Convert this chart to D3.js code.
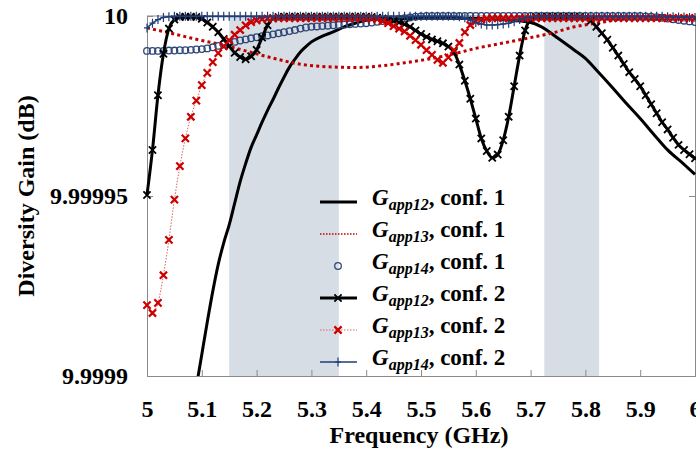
<!DOCTYPE html>
<html>
<head>
<meta charset="utf-8">
<script src="https://d3js.org/d3.v7.min.js"></script>
<style>
body { margin: 0; background: #fff; }
svg { display: block; font-family: "Liberation Serif", "Times New Roman", serif; font-weight: bold; }
.tick text { font-family: "Liberation Serif", "Times New Roman", serif; font-weight: bold; font-size: 24px; fill: #000; }
</style>
</head>
<body>
<div id="plot"></div>
<script>

var width = 696;
var height = 460;
var plotLeft = 147, plotRight = 695, plotTop = 16, plotBottom = 376;
var serif = "'Liberation Serif', 'Times New Roman', serif";

// Frequency sweep, 5.00 .. 6.00 GHz in 0.01 GHz steps (markers sit on these)
var freqs = d3.range(0, 101).map(function (i) { return 5 + i / 100; });

// All curves are stored as the drop below 10 dB, in units of 1e-5 dB
// G_app12, conf. 2 (black, x markers)
var app12conf2 = [
  4.97, 3.72, 2.2, 1.05, 0.35, 0.1, 0.03, 0.02, 0.02, 0.03,
  0.08, 0.18, 0.3, 0.45, 0.64, 0.84, 1.02, 1.14, 1.2, 1.12,
  0.94, 0.6, 0.26, 0.07, 0.03, 0.02, 0.02, 0.02, 0.02, 0.02,
  0.02, 0.02, 0.02, 0.02, 0.02, 0.02, 0.02, 0.02, 0.02, 0.02,
  0.02, 0.03, 0.05, 0.07, 0.1, 0.14, 0.18, 0.23, 0.3, 0.4,
  0.5, 0.58, 0.65, 0.7, 0.76, 0.85, 1.0, 1.35, 1.8, 2.3,
  2.85, 3.4, 3.75, 3.94, 3.85, 3.45, 2.8, 1.95, 1.1, 0.4,
  0.1, 0.03, 0.02, 0.02, 0.02, 0.02, 0.02, 0.02, 0.02, 0.03,
  0.05, 0.13, 0.3, 0.48, 0.66, 0.88, 1.1, 1.33, 1.56, 1.75,
  1.95, 2.2, 2.45, 2.7, 2.95, 3.15, 3.38, 3.58, 3.72, 3.84,
  3.95
];
// G_app13, conf. 2 (red, x markers)
var app13conf2 = [
  8.03, 8.25, 7.97, 7.2, 6.22, 5.1, 4.17, 3.4, 2.8, 2.35,
  1.92, 1.58, 1.28, 1.03, 0.84, 0.68, 0.52, 0.39, 0.26, 0.17,
  0.12, 0.09, 0.07, 0.06, 0.06, 0.06, 0.06, 0.06, 0.06, 0.06,
  0.06, 0.06, 0.06, 0.06, 0.06, 0.06, 0.06, 0.06, 0.06, 0.06,
  0.06, 0.07, 0.09, 0.14, 0.2, 0.28, 0.35, 0.43, 0.55, 0.67,
  0.8, 0.95, 1.08, 1.22, 1.3, 1.15, 0.95, 0.75, 0.45, 0.25,
  0.15, 0.1, 0.07, 0.06, 0.06, 0.06, 0.06, 0.06, 0.06, 0.06,
  0.06, 0.06, 0.06, 0.06, 0.06, 0.06, 0.06, 0.06, 0.06, 0.06,
  0.06, 0.06, 0.06, 0.06, 0.06, 0.06, 0.06, 0.06, 0.06, 0.06,
  0.06, 0.06, 0.06, 0.06, 0.06, 0.06, 0.06, 0.06, 0.06, 0.06,
  0.06
];
// G_app14, conf. 2 (blue, + markers)
var app14conf2 = [
  0.33, 0.2, 0.1, 0.04, 0.02, 0.01, 0.01, 0.01, 0.01, 0.01,
  0.01, 0.01, 0.01, 0.01, 0.01, 0.01, 0.01, 0.01, 0.01, 0.01,
  0.01, 0.01, 0.01, 0.01, 0.01, 0.01, 0.01, 0.01, 0.01, 0.01,
  0.01, 0.01, 0.01, 0.01, 0.01, 0.01, 0.01, 0.01, 0.01, 0.01,
  0.01, 0.01, 0.01, 0.01, 0.01, 0.01, 0.01, 0.01, 0.01, 0.01,
  0.01, 0.01, 0.01, 0.01, 0.01, 0.01, 0.01, 0.02, 0.05, 0.12,
  0.18, 0.22, 0.25, 0.25, 0.24, 0.22, 0.2, 0.16, 0.1, 0.05,
  0.02, 0.01, 0.01, 0.01, 0.01, 0.01, 0.01, 0.01, 0.01, 0.01,
  0.01, 0.01, 0.01, 0.01, 0.01, 0.01, 0.01, 0.01, 0.01, 0.01,
  0.01, 0.01, 0.01, 0.01, 0.01, 0.02, 0.02, 0.03, 0.03, 0.04,
  0.04
];
// G_app14, conf. 1 (blue circles)
var app14conf1 = [
  0.97, 0.97, 0.97, 0.97, 0.96, 0.96, 0.95, 0.95, 0.94, 0.93,
  0.92, 0.9, 0.87, 0.83, 0.79, 0.75, 0.72, 0.68, 0.65, 0.62,
  0.59, 0.56, 0.54, 0.51, 0.48, 0.45, 0.42, 0.39, 0.35, 0.32,
  0.3, 0.29, 0.28, 0.27, 0.26, 0.25, 0.24, 0.23, 0.22, 0.21,
  0.2, 0.18, 0.16, 0.14, 0.12, 0.1, 0.08, 0.06, 0.04, 0.02,
  0.01, 0.0, 0.0, 0.0, 0.0, 0.0, 0.0, 0.0, 0.0, 0.0,
  0.0, 0.0, 0.0, 0.0, 0.0, 0.0, 0.0, 0.0, 0.0, 0.0,
  0.0, 0.0, 0.0, 0.0, 0.0, 0.0, 0.0, 0.0, 0.0, 0.0,
  0.0, 0.0, 0.0, 0.0, 0.0, 0.0, 0.0, 0.0, 0.0, 0.0,
  0.0, 0.01, 0.02, 0.03, 0.05, 0.07, 0.09, 0.11, 0.13, 0.15,
  0.17
];

// G_app12, conf. 1 (black solid line), own frequency points
var app12conf1Freq = [5.07, 5.08, 5.09, 5.10, 5.11, 5.12, 5.13, 5.14, 5.15, 5.16, 5.17, 5.18, 5.19, 5.20,
  5.21, 5.22, 5.23, 5.24, 5.25, 5.26, 5.27, 5.28, 5.29, 5.30, 5.32, 5.34, 5.36, 5.38, 5.40,
  5.45, 5.50, 5.55, 5.60, 5.65, 5.70, 5.72, 5.75, 5.78, 5.80, 5.82, 5.85, 5.87, 5.90, 5.93, 5.95, 5.98, 6.00];
var app12conf1 = [12.3, 11.2, 10.3, 9.4, 8.5, 7.65, 6.9, 6.3, 5.8, 5.2, 4.6, 4.1, 3.65, 3.3,
  2.95, 2.62, 2.32, 2.0, 1.7, 1.42, 1.2, 1.0, 0.85, 0.72, 0.56, 0.44, 0.3, 0.2, 0.12,
  0.08, 0.06, 0.06, 0.07, 0.1, 0.18, 0.3, 0.62, 0.95, 1.18, 1.5, 2.0, 2.35, 2.85, 3.38, 3.72, 4.12, 4.4];

// G_app13, conf. 1 (red dotted line)
var app13conf1Freq = [5.00, 5.05, 5.08, 5.10, 5.14, 5.18, 5.23, 5.28, 5.33, 5.38, 5.43, 5.47, 5.52,
  5.56, 5.60, 5.65, 5.70, 5.74, 5.78, 5.82, 5.86, 5.90, 5.95, 6.00];
var app13conf1 = [0.33, 0.5, 0.61, 0.68, 0.81, 0.97, 1.17, 1.34, 1.41, 1.43, 1.38, 1.3, 1.18,
  1.05, 0.9, 0.75, 0.6, 0.47, 0.3, 0.2, 0.1, 0.04, 0.03, 0.03];

// Shaded bands (GHz)
var bands = [[5.15, 5.35], [5.725, 5.825]];

var xTicks = [5, 5.1, 5.2, 5.3, 5.4, 5.5, 5.6, 5.7, 5.8, 5.9, 6];
var xTickLabels = ["5", "5.1", "5.2", "5.3", "5.4", "5.5", "5.6", "5.7", "5.8", "5.9", "6"];
var yTicks = [9.9999, 9.99995, 10];
var yTickLabels = ["9.9999", "9.99995", "10"];

var legendNames = ["app12", "app13", "app14", "app12", "app13", "app14"];
var legendConfs = ["1", "1", "1", "2", "2", "2"];

var xScale = d3.scaleLinear().domain([5, 6]).range([plotLeft, plotRight]);
var yScale = d3.scaleLinear().domain([9.9999, 10]).range([plotBottom, plotTop]);

var svg = d3.select("#plot").append("svg").attr("width", width).attr("height", height);
svg.append("rect").attr("width", width).attr("height", height).attr("fill", "#fff");

svg.append("defs").append("clipPath").attr("id", "clip")
  .append("rect").attr("x", plotLeft - 8).attr("y", 0).attr("width", plotRight - plotLeft + 16).attr("height", plotBottom);

// bands
svg.selectAll("rect.band").data(bands).enter().append("rect")
  .attr("class", "band")
  .attr("x", function (d) { return xScale(d[0]); })
  .attr("width", function (d) { return xScale(d[1]) - xScale(d[0]); })
  .attr("y", plotTop).attr("height", plotBottom - plotTop)
  .attr("fill", "#d7dde5");

// axes (ticks inside the plot area)
var xAxis = svg.append("g").attr("transform", "translate(0," + plotBottom + ")")
  .call(d3.axisBottom(xScale).tickValues(xTicks).tickSize(-6).tickFormat(function (d, i) { return xTickLabels[i]; }))
  .attr("font-family", serif).attr("font-size", 24);
xAxis.select(".domain").attr("stroke", "#8a8a8a");
xAxis.selectAll(".tick line").attr("stroke", "#8a8a8a");
xAxis.selectAll(".tick text").attr("y", 41).attr("dy", 0).attr("font-family", serif);

var yAxis = svg.append("g").attr("transform", "translate(" + plotLeft + ",0)")
  .call(d3.axisLeft(yScale).tickValues(yTicks).tickSize(-6).tickFormat(function (d, i) { return yTickLabels[i]; }))
  .attr("font-family", serif).attr("font-size", 24);
yAxis.select(".domain").attr("stroke", "#8a8a8a");
yAxis.selectAll(".tick line").attr("stroke", "#8a8a8a");
yAxis.selectAll(".tick text").attr("x", -19).attr("dy", "0.32em").attr("font-family", serif);

var yRight = svg.append("g").attr("transform", "translate(" + plotRight + ",0)")
  .call(d3.axisRight(yScale).tickValues(yTicks).tickSize(-6).tickFormat(""));
yRight.select(".domain").attr("stroke", "#8a8a8a");
yRight.selectAll(".tick line").attr("stroke", "#8a8a8a");

svg.append("line").attr("x1", plotLeft).attr("x2", plotRight).attr("y1", plotTop).attr("y2", plotTop).attr("stroke", "#8a8a8a");

// axis titles
svg.append("text").attr("x", xScale(5.5) - 2).attr("y", 443).attr("text-anchor", "middle")
  .style("font-size", "24px").text("Frequency (GHz)");
svg.append("text").attr("transform", "translate(34," + yScale(9.99995) + ") rotate(-90)")
  .attr("text-anchor", "middle").style("font-size", "24px").text("Diversity Gain (dB)");

// helpers
function toDb(drop) { return 10 - drop * 1e-5; }
function points(fs, drops) {
  return fs.map(function (f, i) { return { x: f, y: toDb(drops[i]) }; });
}
var line = d3.line().x(function (d) { return xScale(d.x); }).y(function (d) { return yScale(d.y); }).curve(d3.curveMonotoneX);

var xMark = "M-3.6,-3.6L3.6,3.6M-3.6,3.6L3.6,-3.6";
var plusMark = "M0,-4.5V4.5M-3,0H3";

var plot = svg.append("g").attr("clip-path", "url(#clip)");

var s1 = points(app12conf1Freq, app12conf1);
var s2 = points(app13conf1Freq, app13conf1);
var s3 = points(freqs, app14conf1);
var s4 = points(freqs, app12conf2);
var s5 = points(freqs, app13conf2);
var s6 = points(freqs, app14conf2);

plot.append("path").datum(s1).attr("d", line).attr("fill", "none").attr("stroke", "#000").attr("stroke-width", 3);
plot.append("path").datum(s2).attr("d", line).attr("fill", "none").attr("stroke", "#c00000")
  .attr("stroke-width", 3).attr("stroke-dasharray", "3,3.2");
plot.selectAll("circle.c3").data(s3).enter().append("circle").attr("class", "c3")
  .attr("cx", function (d) { return xScale(d.x); }).attr("cy", function (d) { return yScale(d.y); })
  .attr("r", 3.3).attr("fill", "none").attr("stroke", "#2e4677").attr("stroke-width", 1.3);

plot.append("path").datum(s4).attr("d", line).attr("fill", "none").attr("stroke", "#000").attr("stroke-width", 3);
plot.selectAll("path.m4").data(s4).enter().append("path").attr("class", "m4")
  .attr("transform", function (d) { return "translate(" + xScale(d.x) + "," + yScale(d.y) + ")"; })
  .attr("d", xMark).attr("stroke", "#000").attr("stroke-width", 1.8);

plot.append("path").datum(s5).attr("d", line).attr("fill", "none").attr("stroke", "#e06060")
  .attr("stroke-width", 1).attr("stroke-dasharray", "1.5,1.5");
plot.selectAll("path.m5").data(s5).enter().append("path").attr("class", "m5")
  .attr("transform", function (d) { return "translate(" + xScale(d.x) + "," + yScale(d.y) + ")"; })
  .attr("d", xMark).attr("stroke", "#cc0000").attr("stroke-width", 2.2);

plot.append("path").datum(s6).attr("d", line).attr("fill", "none").attr("stroke", "#1f3d78").attr("stroke-width", 1.6);
plot.selectAll("path.m6").data(s6).enter().append("path").attr("class", "m6")
  .attr("transform", function (d) { return "translate(" + xScale(d.x) + "," + yScale(d.y) + ")"; })
  .attr("d", plusMark).attr("stroke", "#1f3d78").attr("stroke-width", 1.2);

// legend
var legend = svg.append("g");
var rowY = function (i) { return 202 + i * 32; };
var lx0 = 320, lx1 = 357, lmid = 338;

legend.append("line").attr("x1", lx0).attr("x2", lx1).attr("y1", rowY(0)).attr("y2", rowY(0)).attr("stroke", "#000").attr("stroke-width", 3);
legend.append("line").attr("x1", lx0).attr("x2", lx1).attr("y1", rowY(1)).attr("y2", rowY(1)).attr("stroke", "#c00000").attr("stroke-width", 1.5).attr("stroke-dasharray", "1.5,1.5");
legend.append("circle").attr("cx", lmid).attr("cy", rowY(2)).attr("r", 3.3).attr("fill", "none").attr("stroke", "#2e4677").attr("stroke-width", 1.3);
legend.append("line").attr("x1", lx0).attr("x2", lx1).attr("y1", rowY(3)).attr("y2", rowY(3)).attr("stroke", "#000").attr("stroke-width", 3);
legend.append("path").attr("transform", "translate(" + lmid + "," + rowY(3) + ")").attr("d", xMark).attr("stroke", "#000").attr("stroke-width", 1.8);
legend.append("line").attr("x1", lx0).attr("x2", lx1).attr("y1", rowY(4)).attr("y2", rowY(4)).attr("stroke", "#e06060").attr("stroke-width", 1).attr("stroke-dasharray", "1.5,1.5");
legend.append("path").attr("transform", "translate(" + lmid + "," + rowY(4) + ")").attr("d", xMark).attr("stroke", "#cc0000").attr("stroke-width", 2.2);
legend.append("line").attr("x1", lx0).attr("x2", lx1).attr("y1", rowY(5)).attr("y2", rowY(5)).attr("stroke", "#1f3d78").attr("stroke-width", 1.6);
legend.append("path").attr("transform", "translate(" + lmid + "," + rowY(5) + ")").attr("d", plusMark).attr("stroke", "#1f3d78").attr("stroke-width", 1.2);

legendNames.forEach(function (name, i) {
  var t = legend.append("text").attr("x", 372).attr("y", rowY(i) + 3).style("font-size", "23px");
  t.append("tspan").style("font-style", "italic").text("G");
  t.append("tspan").style("font-style", "italic").style("font-size", "16px").attr("dy", 5).text(name);
  t.append("tspan").attr("dy", -5).text(", conf. " + legendConfs[i]);
});

</script>
</body>
</html>
